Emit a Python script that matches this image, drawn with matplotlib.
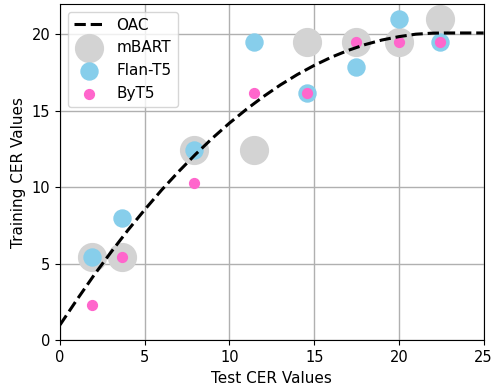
import matplotlib
matplotlib.use("Agg")
import matplotlib.pyplot as plt

# Scatter points
mbart_x = [1.87, 3.66, 7.88, 11.47, 14.57, 17.49, 20.0, 22.4]
mbart_y = [5.44, 5.44, 12.42, 12.42, 19.5, 19.5, 19.5, 21.0]

flan_x = [1.87, 3.66, 7.88, 11.47, 14.57, 17.49, 20.0, 22.4]
flan_y = [5.44, 8.0, 12.42, 19.5, 16.18, 17.86, 21.0, 19.5]

byt5_x = [1.87, 3.66, 7.88, 11.47, 14.57, 17.49, 20.0, 22.4]
byt5_y = [2.35, 5.44, 10.3, 16.18, 16.18, 19.5, 19.5, 19.5]

# OAC curve
oac_x = [0, 1, 2, 3, 4, 5, 6, 7, 8, 9, 10, 11, 12, 13, 14, 15, 16, 17,
         18, 19, 20, 21, 22, 23, 24, 25]
oac_y = [1.02, 2.67, 4.26, 5.76, 7.20, 8.55, 9.84, 11.04, 12.17, 13.23,
         14.21, 15.11, 15.94, 16.70, 17.38, 17.98, 18.51, 18.96, 19.34,
         19.64, 19.86, 20.02, 20.09, 20.1, 20.1, 20.1]

fig = plt.figure(figsize=(4.92, 3.9), dpi=100)
ax = fig.add_axes([0.122, 0.127, 0.861, 0.863])

ax.plot(oac_x, oac_y, 'k--', lw=2.2, label='OAC', zorder=4)
ax.scatter(mbart_x, mbart_y, s=400, color='lightgray', label='mBART', zorder=2)
ax.scatter(flan_x, flan_y, s=150, color='skyblue', label='Flan-T5', zorder=3)
ax.scatter(byt5_x, byt5_y, s=50, color='#ff66cc', label='ByT5', zorder=3)

ax.set_xlim(0, 25)
ax.set_ylim(0, 22)
ax.set_xticks([0, 5, 10, 15, 20, 25])
ax.set_yticks([0, 5, 10, 15, 20])
ax.tick_params(labelsize=10.5)
ax.grid(True, color='#b0b0b0', lw=1)
ax.set_xlabel('Test CER Values', fontsize=11)
ax.set_ylabel('Training CER Values', fontsize=11)
ax.legend(loc='upper left', fontsize=11)

fig.savefig('out.png', dpi=100)
